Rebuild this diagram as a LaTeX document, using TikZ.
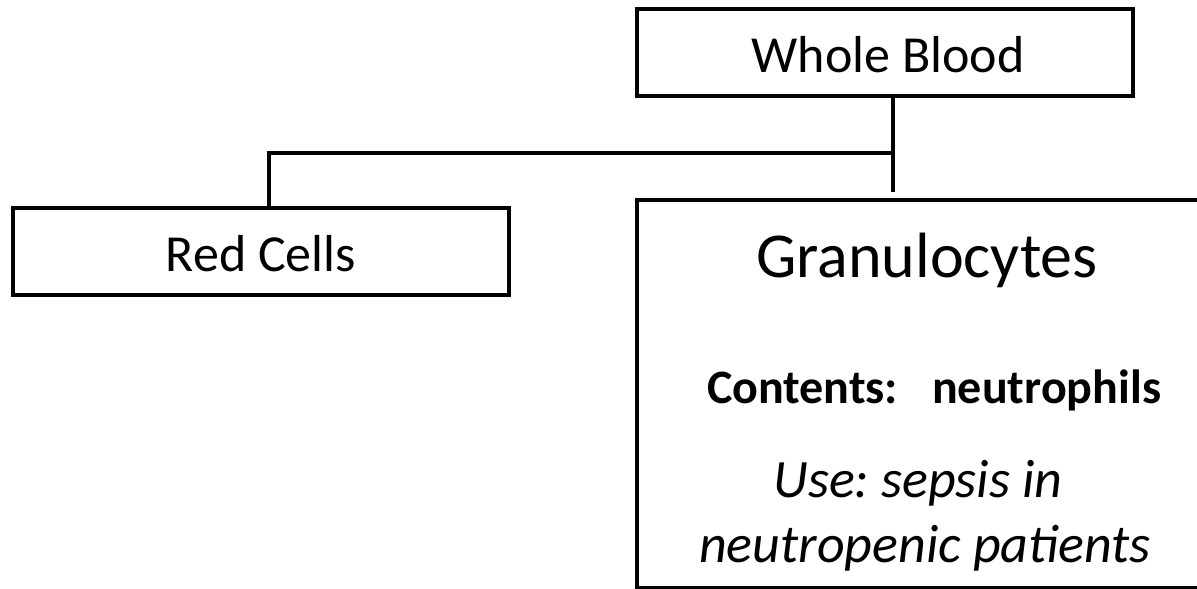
\documentclass[tikz,border=0pt]{standalone}
\usepackage{fontspec}
\setmainfont{Carlito}
\frenchspacing
\begin{document}
\begin{tikzpicture}[x=1pt,y=-1pt,
  box/.style={draw=black,line width=4pt,rectangle,inner sep=0pt},
  conn/.style={draw=black,line width=4pt},
  lbl/.style={anchor=base,inner sep=0pt}]
\useasboundingbox (0,0) rectangle (1197,589);
\clip (0,0) rectangle (1197,589);
% boxes
\node[box,minimum width=496pt,minimum height=87pt] (wb) at (885,52.5) {};
\node[box,minimum width=496pt,minimum height=87pt] (rc) at (261,251.5) {};
\node[box,minimum width=580pt,minimum height=388pt] (gr) at (927,394) {};
% labels
\node[lbl,font=\fontsize{52}{60}\selectfont] (wbt) at (888,72) {Whole Blood};
\node[lbl,font=\fontsize{52}{60}\selectfont] (rct) at (261,271) {Red Cells};
\node[lbl,font=\fontsize{64}{72}\selectfont] (grt) at (927,277) {Granulocytes};
\node[lbl,font=\fontsize{48}{56}\selectfont\bfseries] (cont) at (934,403) {Contents:\hspace{34pt}neutrophils};
\node[lbl,font=\fontsize{54}{62}\selectfont\itshape] (use1) at (918,497) {Use: sepsis in};
\node[lbl,font=\fontsize{54}{62}\selectfont\itshape] (use2) at (925,562) {neutropenic patients};
% connectors
\coordinate (j) at (893,153);
\coordinate (k) at (269,153);
\draw[conn] (wb.south -| j) -- ([yshift=6pt]gr.north -| j);
\draw[conn] (j) -- (k) -- (rc.north -| k);
\end{tikzpicture}
\end{document}
